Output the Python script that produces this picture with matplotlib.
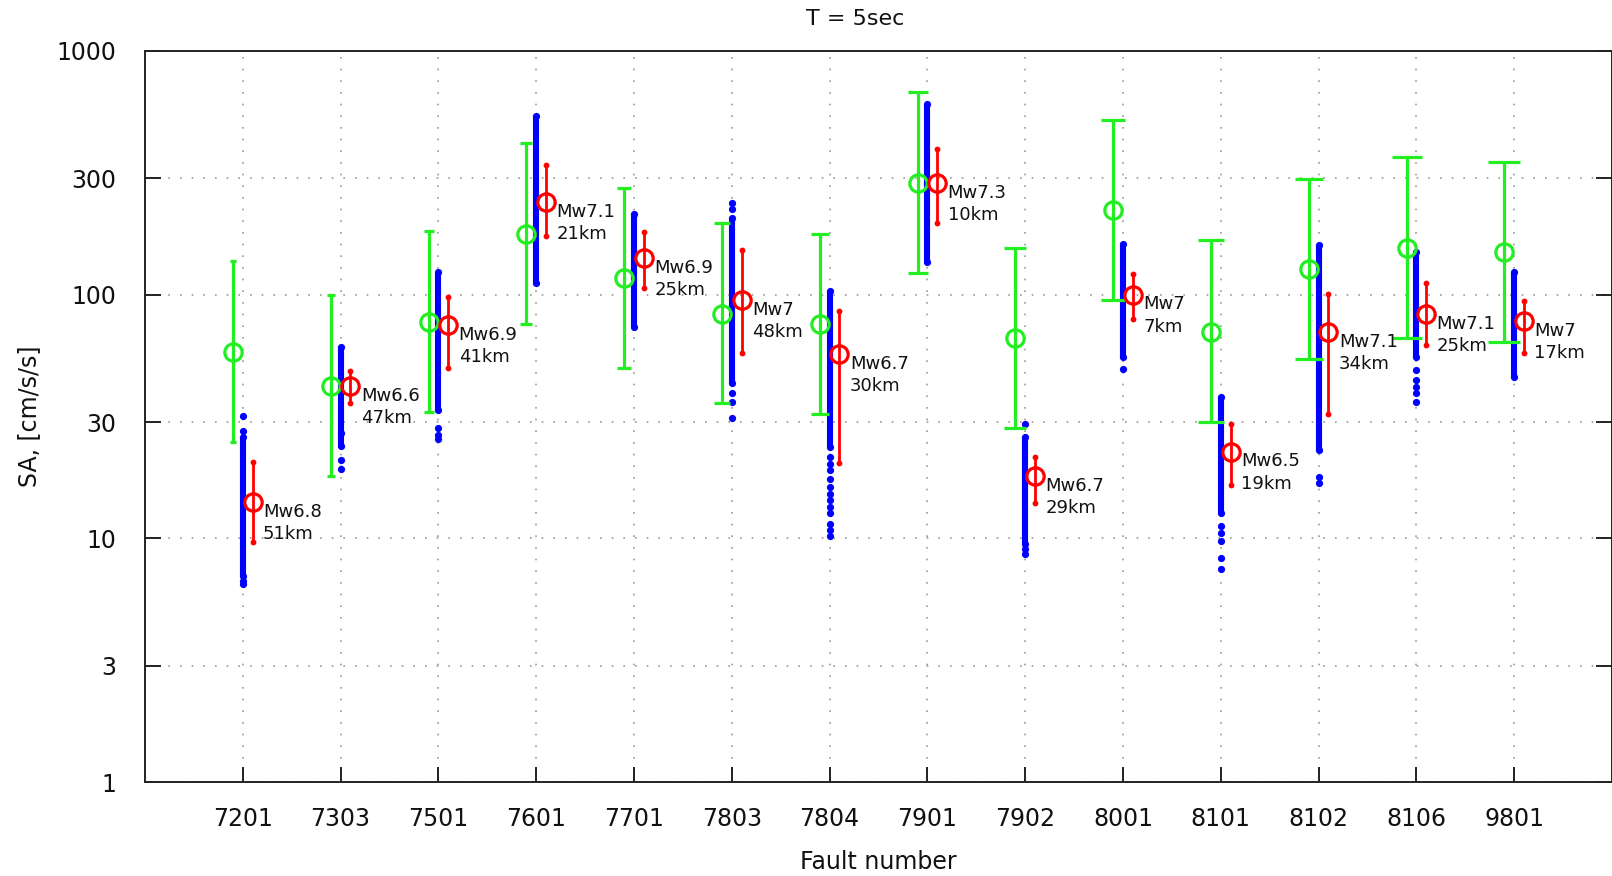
import matplotlib
matplotlib.use("Agg")
import matplotlib.pyplot as plt
import numpy as np

# faults and scenario labels
faults = ['7201', '7303', '7501', '7601', '7701', '7803', '7804',
          '7901', '7902', '8001', '8101', '8102', '8106', '9801']
mw = ['6.8', '6.6', '6.9', '7.1', '6.9', '7', '6.7',
      '7.3', '6.7', '7', '6.5', '7.1', '7.1', '7']
dist_km = [51, 47, 41, 21, 25, 48, 30, 10, 29, 7, 19, 34, 25, 17]

# GMPE median and +/- range (green)
green_med = [58.3, 42.2, 77.4, 177, 117, 83.2, 75.7, 286, 66.6, 222, 70.4, 127, 156, 149]
green_hi = [137, 100, 182, 418, 273, 196, 178, 680, 156, 520, 168, 297, 366, 349]
green_lo = [24.8, 18.0, 33.1, 75.7, 49.9, 35.8, 32.3, 123, 28.3, 95, 30.1, 54.3, 66.2, 63.7]

# simulated median and spread (red)
red_med = [14.1, 42.2, 75, 240, 141, 95, 57, 286, 18.0, 100, 22.7, 70.4, 83.2, 78]
red_hi = [20.6, 48.7, 98, 340, 181, 152, 85.9, 396, 21.5, 122, 29.4, 100.5, 112, 94.4]
red_lo = [9.7, 35.8, 49.9, 174, 107, 57.8, 20.4, 197, 14.0, 79.2, 16.5, 32.4, 62.1, 57.4]

# simulated stations (blue): dense range + separate points
blue_lo = [7.0, 24, 33.6, 112, 74, 43.3, 23.8, 136, 9.5, 55.6, 12.7, 23, 55.6, 45.8]
blue_hi = [26.1, 61.1, 124, 541, 214, 206, 104, 604, 26.1, 161, 38.1, 160, 150, 124]
blue_extra = [
    [31.8, 27.6, 6.5, 6.7],
    [27, 21.0, 19.2],
    [28.3, 26.5, 25.5],
    [],
    [],
    [237, 225, 39.3, 36.4, 31.1],
    [21.6, 20.2, 19.1, 17.6, 16.3, 15.2, 14.4, 13.4, 12.7, 11.5, 10.8, 10.2],
    [],
    [29.4, 9.0, 8.6],
    [49.4],
    [11.2, 10.5, 9.75, 8.3, 7.5],
    [17.9, 16.8],
    [49.1, 44.6, 41.9, 39.4, 36.4],
    [],
]

plt.rcParams['font.family'] = ['DejaVu Sans']

GREEN = '#22ee22'
BLUE = '#0000ff'
RED = '#ff0000'
INK = '#111111'

fig = plt.figure(figsize=(16.12, 8.76), dpi=100)
ax = fig.add_axes([145 / 1612, 94 / 876, 1467 / 1612, 731 / 876])

x = np.arange(1, len(faults) + 1)

# blue strips
for i, xi in enumerate(x):
    ax.vlines(xi, blue_lo[i], blue_hi[i], color=BLUE, lw=4.4, zorder=3)
    pts = [blue_lo[i], blue_hi[i]] + blue_extra[i]
    ax.plot([xi] * len(pts), pts, 'o', color=BLUE, ms=5.2, mew=0, zorder=3)

# green error bars, cap width grows along the axis
for i, xi in enumerate(x):
    cap_px = 6 + 2 * i
    ax.errorbar(xi - 0.1, green_med[i],
                yerr=[[green_med[i] - green_lo[i]], [green_hi[i] - green_med[i]]],
                fmt='o', mfc='none', mec=GREEN, mew=2.3, ms=12.5,
                ecolor=GREEN, elinewidth=2.3, capsize=cap_px * 0.36, capthick=2.3,
                zorder=4)

# red error bars with end dots
for i, xi in enumerate(x):
    xr = xi + 0.1
    ax.vlines(xr, red_lo[i], red_hi[i], color=RED, lw=2.0, zorder=5)
    ax.plot([xr, xr], [red_lo[i], red_hi[i]], 'o', color=RED, ms=4.2, mew=0, zorder=5)
    ax.plot(xr, red_med[i], 'o', mfc='none', mec=RED, mew=2.3, ms=12.5, zorder=6)
    ax.annotate(f'Mw{mw[i]}\n{dist_km[i]}km', (xr, red_med[i]),
                xytext=(7.5, -15), textcoords='offset points',
                ha='left', va='center', fontsize=13, linespacing=1.3,
                color=INK, zorder=7)

ax.set_yscale('log')
ax.set_ylim(1, 1000)
ax.set_xlim(0, 15)
ax.set_yticks([1, 3, 10, 30, 100, 300, 1000])
ax.set_yticklabels(['1', '3', '10', '30', '100', '300', '1000'])
ax.yaxis.set_minor_locator(matplotlib.ticker.NullLocator())
ax.set_xticks(x)
ax.set_xticklabels(faults)

ax.tick_params(axis='y', which='major', direction='in', length=11.5, width=1.3,
               labelsize=17, pad=21, right=True, colors=INK)
ax.tick_params(axis='x', which='major', direction='in', length=11, width=1.3,
               labelsize=17, pad=18, top=False, colors=INK)

ax.grid(True, which='major', color='#9a9a9a', linestyle=(0, (1, 6)), lw=1.2, zorder=0)
for s in ax.spines.values():
    s.set_linewidth(1.4)
    s.set_color('#222222')

ax.set_xlabel('Fault number', fontsize=17, labelpad=14, color=INK)
ax.set_ylabel('SA, [cm/s/s]', fontsize=17, labelpad=11, color=INK)
fig.text(855 / 1612, 1 - 19 / 876, 'T = 5sec', ha='center', va='center',
         fontsize=16, color=INK)

fig.savefig('out.png', dpi=100)
